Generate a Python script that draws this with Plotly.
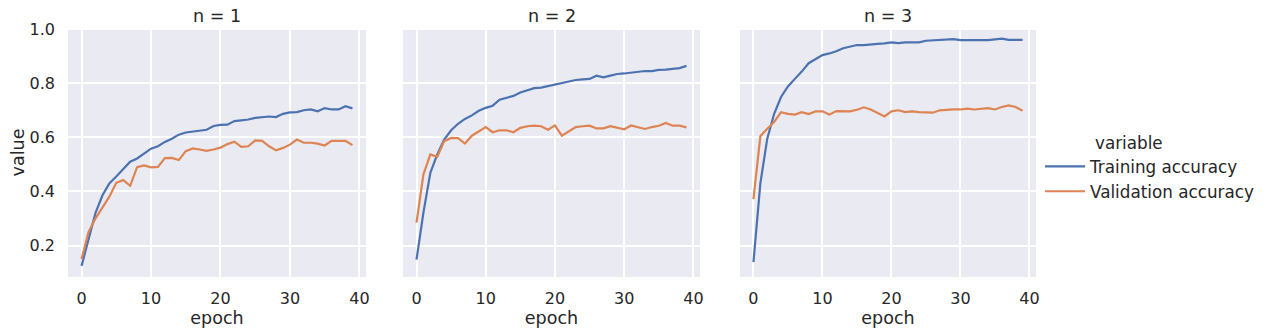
import plotly.graph_objects as go

epochs = list(range(40))

train_n1 = [0.125, 0.222, 0.32, 0.385, 0.43, 0.455, 0.482, 0.51, 0.522, 0.54,
            0.558, 0.567, 0.583, 0.595, 0.61, 0.618, 0.622, 0.626, 0.628, 0.642,
            0.646, 0.647, 0.66, 0.663, 0.666, 0.672, 0.675, 0.677, 0.675, 0.687,
            0.692, 0.693, 0.70, 0.703, 0.696, 0.708, 0.703, 0.703, 0.715, 0.707]
val_n1 = [0.15, 0.25, 0.30, 0.338, 0.381, 0.432, 0.442, 0.421, 0.49, 0.496,
          0.489, 0.491, 0.523, 0.524, 0.516, 0.549, 0.559, 0.555, 0.55, 0.555,
          0.562, 0.575, 0.584, 0.565, 0.567, 0.589, 0.587, 0.567, 0.552, 0.561,
          0.573, 0.592, 0.58, 0.58, 0.577, 0.57, 0.587, 0.587, 0.587, 0.571]

train_n2 = [0.148, 0.322, 0.469, 0.537, 0.592, 0.626, 0.65, 0.668, 0.681, 0.698,
            0.709, 0.717, 0.739, 0.747, 0.753, 0.766, 0.773, 0.782, 0.784, 0.79,
            0.794, 0.80, 0.807, 0.812, 0.814, 0.816, 0.828, 0.822, 0.828, 0.834,
            0.836, 0.839, 0.84, 0.845, 0.845, 0.849, 0.85, 0.853, 0.856, 0.864]
val_n2 = [0.285, 0.463, 0.537, 0.528, 0.586, 0.598, 0.597, 0.577, 0.606, 0.621,
          0.638, 0.619, 0.626, 0.626, 0.619, 0.635, 0.641, 0.643, 0.641, 0.628,
          0.644, 0.606, 0.621, 0.638, 0.641, 0.643, 0.633, 0.633, 0.641, 0.635,
          0.63, 0.644, 0.638, 0.631, 0.638, 0.643, 0.653, 0.643, 0.643, 0.637]

train_n3 = [0.139, 0.43, 0.595, 0.687, 0.749, 0.788, 0.816, 0.843, 0.874, 0.889,
            0.904, 0.91, 0.918, 0.929, 0.935, 0.941, 0.941, 0.942, 0.945, 0.947,
            0.951, 0.948, 0.951, 0.951, 0.951, 0.957, 0.958, 0.959, 0.96, 0.963,
            0.959, 0.959, 0.959, 0.96, 0.959, 0.962, 0.965, 0.96, 0.96, 0.96]
val_n3 = [0.372, 0.604, 0.632, 0.657, 0.693, 0.687, 0.684, 0.693, 0.686, 0.696,
          0.696, 0.684, 0.697, 0.696, 0.696, 0.702, 0.711, 0.703, 0.691, 0.677,
          0.696, 0.70, 0.693, 0.696, 0.693, 0.691, 0.691, 0.70, 0.702, 0.703,
          0.703, 0.706, 0.703, 0.706, 0.708, 0.703, 0.712, 0.718, 0.712, 0.698]

panel_titles = ["n = 1", "n = 2", "n = 3"]
series_names = ["Training accuracy", "Validation accuracy"]
x_ticks = [0, 10, 20, 30, 40]
y_ticks = [0.2, 0.4, 0.6, 0.8, 1.0]
y_tick_labels = ["0.2", "0.4", "0.6", "0.8", "1.0"]

BLUE = "#4C72B0"
ORANGE = "#DD8452"
BG = "#EAEAF2"
TXT = "#262626"
FONT = "DejaVu Sans"

# the page body has an 8px default margin, so the figure is drawn 8px smaller/offset
OFF = 8
W, H = 1271 - OFF, 335 - OFF
ML, MR, MT, MB = 68 - OFF, 235, 28 - OFF, 58
PW = W - ML - MR
PH = H - MT - MB

domains_px = [(68, 366), (403, 700), (740, 1036)]
domains = [((a - OFF - ML) / PW, (b - OFF - ML) / PW) for a, b in domains_px]


def px_x(p):
    return (p - OFF - ML) / PW


def px_y(p):
    return (H - MB - (p - OFF)) / PH


panels = [(train_n1, val_n1), (train_n2, val_n2), (train_n3, val_n3)]

fig = go.Figure()
for i, (tr, va) in enumerate(panels):
    xa = "x" if i == 0 else f"x{i + 1}"
    ya = "y" if i == 0 else f"y{i + 1}"
    fig.add_trace(go.Scatter(x=epochs, y=tr, mode="lines", name=series_names[0],
                             line=dict(color=BLUE, width=2.2), legendgroup="tr",
                             showlegend=(i == 0), xaxis=xa, yaxis=ya))
    fig.add_trace(go.Scatter(x=epochs, y=va, mode="lines", name=series_names[1],
                             line=dict(color=ORANGE, width=2.2), legendgroup="va",
                             showlegend=(i == 0), xaxis=xa, yaxis=ya))

layout = dict(
    width=W, height=H,
    margin=dict(l=ML, r=MR, t=MT, b=MB, pad=0, autoexpand=False),
    paper_bgcolor="white", plot_bgcolor=BG,
    font=dict(family=FONT, size=16, color=TXT),
    showlegend=True,
    legend=dict(x=px_x(1040), xanchor="left", y=px_y(149), yanchor="top",
                bgcolor="rgba(0,0,0,0)", borderwidth=0,
                font=dict(family=FONT, size=16.8, color=TXT), itemwidth=40,
                tracegroupgap=0),
)

annotations = []
for i in range(3):
    sx = "" if i == 0 else str(i + 1)
    layout[f"xaxis{sx}"] = dict(
        domain=list(domains[i]), anchor=f"y{sx}", range=[-1.95, 40.95],
        tickvals=x_ticks, ticktext=[str(t) for t in x_ticks], automargin=False,
        showgrid=True, gridcolor="white", gridwidth=1.5, zeroline=False, showline=False,
        ticks="", ticklabelstandoff=10, tickfont=dict(size=16, color=TXT),
        title=dict(text="epoch", font=dict(size=17.5, color=TXT), standoff=3),
    )
    ya = dict(
        domain=[0, 1], anchor=f"x{sx}", range=[0.084, 1.004], automargin=False,
        tickvals=y_ticks, ticktext=y_tick_labels,
        showgrid=True, gridcolor="white", gridwidth=1.5, zeroline=False, showline=False,
        ticks="", tickfont=dict(size=16, color=TXT),
    )
    if i == 0:
        ya.update(ticklabelstandoff=12,
                  title=dict(text="value", font=dict(size=17.5, color=TXT), standoff=2))
    else:
        ya.update(matches="y", showticklabels=False)
    layout[f"yaxis{sx}"] = ya
    annotations.append(dict(
        text=panel_titles[i], x=(domains[i][0] + domains[i][1]) / 2, y=1,
        xref="paper", yref="paper", xanchor="center", yanchor="bottom",
        yshift=0, showarrow=False, font=dict(size=17.5, color=TXT, family=FONT)))

annotations.append(dict(
    text="variable", x=px_x(1093), y=px_y(143), xref="paper", yref="paper",
    xanchor="left", yanchor="middle", showarrow=False,
    font=dict(size=16.8, color=TXT, family=FONT)))
layout["annotations"] = annotations

layout["shapes"] = [
    dict(type="line", xref="paper", yref="paper", x0=px_x(1270), x1=px_x(1270),
         y0=px_y(335), y1=px_y(0), line=dict(color="#555555", width=2)),
]

fig.update_layout(**layout)
fig.write_html("out.html")
